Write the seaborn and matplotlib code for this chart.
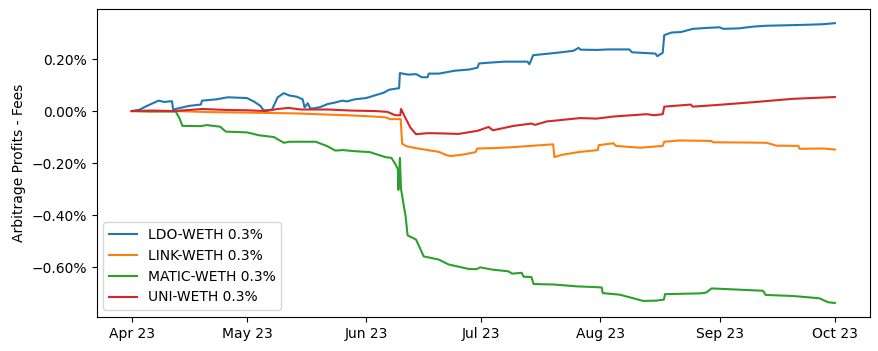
import pandas as pd
import matplotlib
matplotlib.use("Agg")
import matplotlib.pyplot as plt
import matplotlib.dates as mdates
from matplotlib.ticker import PercentFormatter
import seaborn as sns

start = pd.Timestamp("2023-04-01")

# days since 2023-04-01 and profit minus fees in percent
ldo_days = [0, 2, 4, 7, 8.5, 10.5, 10.8, 12, 15, 18, 18.3, 22, 25, 30, 32, 33.5, 34.3, 36.5,
            38, 39.6, 41, 43, 44.5, 45, 45.8, 46.5, 47.2, 49, 51, 53, 54.8, 56, 58, 61, 63,
            65.5, 67, 69.6, 69.8, 72, 74, 75.5, 77, 77.3, 80, 84, 88, 90, 90.4, 93, 97, 103,
            103.5, 104.5, 108, 113, 115, 116.3, 116.8, 121, 124, 129.5, 130.2, 136.3, 136.8,
            138.2, 138.6, 140.5, 143, 146, 150, 153, 154, 158, 162, 165, 171, 176, 180, 183]
ldo_vals = [0.0, 0.005, 0.02, 0.04, 0.035, 0.038, 0.006, 0.01, 0.02, 0.025, 0.04, 0.045,
            0.053, 0.05, 0.035, 0.02, 0.003, 0.005, 0.053, 0.069, 0.06, 0.055, 0.045, 0.014,
            0.03, 0.01, 0.01, 0.015, 0.027, 0.033, 0.04, 0.037, 0.045, 0.05, 0.059, 0.07,
            0.082, 0.088, 0.146, 0.14, 0.142, 0.13, 0.13, 0.144, 0.144, 0.155, 0.16, 0.167,
            0.183, 0.186, 0.19, 0.19, 0.18, 0.215, 0.22, 0.228, 0.232, 0.243, 0.236, 0.235,
            0.237, 0.237, 0.226, 0.221, 0.211, 0.224, 0.292, 0.302, 0.304, 0.316, 0.32,
            0.322, 0.316, 0.318, 0.325, 0.328, 0.330, 0.332, 0.334, 0.338]

link_days = [0, 5, 11.5, 20, 30, 42.7, 50, 56, 63, 66, 67.3, 70, 70.4, 71.5, 73.4, 77, 80,
             82, 83, 86, 89.5, 89.9, 95, 100, 104.6, 109.7, 110, 112, 116.7, 121.3, 121.6,
             125.4, 126, 132.3, 138.2, 138.6, 142.7, 150.9, 151.2, 160, 165.2, 167.8, 173.5,
             173.8, 180, 183]
link_vals = [0.0, -0.002, 0.0, -0.004, -0.006, -0.009, -0.013, -0.016, -0.021, -0.024,
             -0.031, -0.031, -0.126, -0.135, -0.141, -0.150, -0.157, -0.170, -0.173, -0.168,
             -0.158, -0.144, -0.142, -0.138, -0.133, -0.128, -0.177, -0.168, -0.157, -0.150,
             -0.131, -0.124, -0.134, -0.141, -0.134, -0.118, -0.113, -0.115, -0.120, -0.121,
             -0.122, -0.133, -0.134, -0.145, -0.144, -0.148]

matic_days = [0, 6, 11.5, 12.5, 13.2, 18, 19.5, 23, 24.5, 30, 33.1, 37, 39.6, 41, 47.9,
              50.9, 53, 55, 57.8, 62, 66, 67.6, 68.7, 69.3, 69.4, 69.8, 70.1, 71.3, 71.8, 74,
              76, 78, 79.9, 82.5, 87.7, 89.7, 90.7, 94, 98, 99, 101.5, 102, 104, 104.6, 110,
              115.8, 122.3, 122.6, 127, 130.6, 133.1, 136.5, 138.5, 138.8, 148, 149.5, 150.9,
              157, 164.3, 165, 172, 176, 179, 181.2, 183]
matic_vals = [0.0, -0.001, -0.002, -0.03, -0.057, -0.058, -0.054, -0.06, -0.079, -0.082,
              -0.093, -0.1, -0.122, -0.118, -0.118, -0.135, -0.152, -0.15, -0.154, -0.158,
              -0.177, -0.18, -0.206, -0.225, -0.303, -0.18, -0.30, -0.406, -0.478, -0.494,
              -0.559, -0.565, -0.571, -0.590, -0.607, -0.608, -0.601, -0.610, -0.616, -0.625,
              -0.622, -0.637, -0.638, -0.665, -0.667, -0.674, -0.678, -0.700, -0.706, -0.720,
              -0.730, -0.729, -0.725, -0.704, -0.701, -0.698, -0.682, -0.686, -0.691, -0.707,
              -0.711, -0.716, -0.720, -0.735, -0.738]

uni_days = [0, 5, 11, 18.4, 25, 30, 34.9, 38, 40.9, 44, 51, 57, 63.4, 66.5, 68.6, 69.9,
            70.1, 71.2, 72.5, 74, 77, 81, 85, 90, 92.9, 94, 99.4, 104, 105, 108, 116.7, 121,
            125.4, 134, 136, 138.2, 138.6, 145.5, 146, 152, 161.7, 172, 183]
uni_vals = [0.0, 0.002, 0.0, 0.008, 0.004, 0.003, 0.0, 0.008, 0.012, 0.006, 0.006, 0.002,
            0.0, -0.003, -0.016, -0.016, 0.008, -0.025, -0.063, -0.089, -0.085, -0.086,
            -0.088, -0.076, -0.061, -0.074, -0.057, -0.048, -0.053, -0.040, -0.027, -0.029,
            -0.021, -0.012, -0.016, -0.012, 0.017, 0.025, 0.017, 0.023, 0.034, 0.047, 0.054]

pools = ["LDO-WETH 0.3%", "LINK-WETH 0.3%", "MATIC-WETH 0.3%", "UNI-WETH 0.3%"]
colors = ["tab:blue", "tab:orange", "tab:green", "tab:red"]
series = [(ldo_days, ldo_vals), (link_days, link_vals),
          (matic_days, matic_vals), (uni_days, uni_vals)]

fig = plt.figure(figsize=(8.79, 3.51), dpi=100)
ax = fig.add_axes([0.1098, 0.0969, 0.88, 0.877])

for name, color, (days, vals) in zip(pools, colors, series):
    df = pd.DataFrame({
        "date": start + pd.to_timedelta(days, unit="D"),
        "profit": vals,
    })
    sns.lineplot(data=df, x="date", y="profit", color=color, label=name,
                 estimator=None, ax=ax)

ax.xaxis.set_major_locator(mdates.MonthLocator())
ax.xaxis.set_major_formatter(mdates.DateFormatter("%b %y"))
ax.yaxis.set_major_formatter(PercentFormatter(xmax=100, decimals=2))
ax.set_xlabel("")
ax.set_ylabel("Arbitrage Profits - Fees")
ax.legend(loc="lower left")

fig.savefig("out.png", dpi=100)
